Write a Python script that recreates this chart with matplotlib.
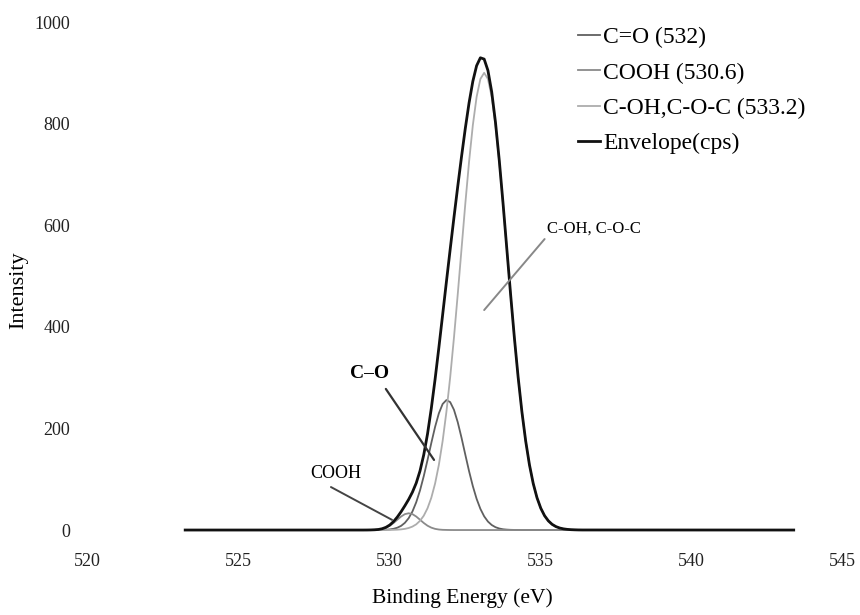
import matplotlib
matplotlib.use('Agg')
import matplotlib.pyplot as plt

plt.rcParams['font.family'] = 'serif'
plt.rcParams['font.serif'] = ['Liberation Serif', 'DejaVu Serif']

# Binding energy (eV) and intensities
energy = [523.25,
          529.15, 529.275, 529.4, 529.525, 529.65, 529.775, 529.9, 530.025,
          530.15, 530.275, 530.4, 530.525, 530.65, 530.775, 530.9, 531.025,
          531.15, 531.275, 531.4, 531.525, 531.65, 531.775, 531.9, 532.025,
          532.15, 532.275, 532.4, 532.525, 532.65, 532.775, 532.9, 533.025,
          533.15, 533.275, 533.4, 533.525, 533.65, 533.775, 533.9, 534.025,
          534.15, 534.275, 534.4, 534.525, 534.65, 534.775, 534.9, 535.025,
          535.15, 535.275, 535.4, 535.525, 535.65, 535.775, 535.9, 536.025,
          536.15, 536.275, 536.4,
          543.4]
c_o = [0,
       0, 0, 0, 0.05, 0.1, 0.3, 0.6, 1.2, 2.4, 4.6, 8.2, 14.2, 23.3, 36.5,
       54.6, 77.8, 106.1, 137.9, 171.3, 203.0, 229.7, 248.1, 255.8, 251.8,
       236.7, 212.3, 181.8, 148.6, 115.9, 86.4, 61.4, 41.7, 27.0, 16.7, 9.9,
       5.6, 3.0, 1.5, 0.8, 0.4, 0.2, 0.1,
       0, 0, 0, 0, 0, 0, 0, 0, 0, 0, 0, 0, 0, 0, 0, 0, 0,
       0]
cooh = [0,
        0, 0.05, 0.2, 0.4, 1.0, 2.3, 4.7, 8.5, 13.9, 20.3, 26.6, 31.3, 33.0,
        31.3, 26.6, 20.3, 13.9, 8.5, 4.7, 2.3, 1.0, 0.4, 0.2, 0.05,
        0, 0, 0, 0, 0, 0, 0, 0, 0, 0, 0, 0, 0, 0, 0, 0, 0, 0, 0, 0, 0, 0, 0,
        0, 0, 0, 0, 0, 0, 0, 0, 0, 0, 0, 0,
        0]
c_oh = [0,
        0, 0, 0, 0, 0, 0.05, 0.1, 0.2, 0.4, 0.7, 1.3, 2.3, 4.0, 6.8, 11.2,
        18.1, 28.2, 42.9, 63.5, 91.5, 128.3, 175.2, 232.7, 300.9, 378.7,
        463.9, 553.0, 641.8, 724.9, 796.9, 852.6, 887.9, 900.0, 887.9, 852.6,
        796.9, 724.9, 641.8, 553.0, 463.9, 378.7, 300.9, 232.7, 175.2, 128.3,
        91.5, 63.5, 42.9, 28.2, 18.1, 11.2, 6.8, 4.0, 2.3, 1.3, 0.7, 0.4,
        0.2, 0.1,
        0]
envelope = [0,
            0, 0.05, 0.2, 0.5, 1.1, 2.6, 5.4, 9.9, 16.7, 25.6, 36.1, 47.8,
            60.3, 74.6, 92.4, 116.2, 148.2, 189.3, 239.5, 296.8, 359.0, 423.7,
            488.7, 552.7, 615.4, 676.2, 734.8, 790.4, 840.8, 883.3, 914.0,
            929.6, 927.0, 904.6, 862.5, 802.5, 727.9, 643.3, 553.8, 464.3,
            378.9, 300.9, 232.7, 175.2, 128.3, 91.5, 63.5, 42.9, 28.2, 18.1,
            11.2, 6.8, 4.0, 2.3, 1.3, 0.7, 0.4, 0.2, 0.1,
            0]

series_labels = ['C=O (532)', 'COOH (530.6)', 'C-OH,C-O-C (533.2)', 'Envelope(cps)']
x_ticks = [520, 525, 530, 535, 540, 545]
y_ticks = [0, 200, 400, 600, 800, 1000]

fig = plt.figure(figsize=(8.6, 6.15), dpi=100)
ax = fig.add_axes([0.1012, 0.1299, 0.8779, 0.8343])

ax.plot(energy, c_o, color='#606060', lw=1.3, label=series_labels[0])
ax.plot(energy, cooh, color='#8a8a8a', lw=1.3, label=series_labels[1])
ax.plot(energy, c_oh, color='#adadad', lw=1.3, label=series_labels[2])
ax.plot(energy, envelope, color='#111111', lw=2.0, label=series_labels[3])

ax.set_xlim(520, 545)
ax.set_ylim(-10, 1000)
ax.set_xticks(x_ticks)
ax.set_yticks(y_ticks)
ax.tick_params(axis='both', length=0, labelsize=13, colors='#222222')
ax.tick_params(axis='x', pad=13)
ax.tick_params(axis='y', pad=12)
for s in ax.spines.values():
    s.set_visible(False)

ax.set_xlabel('Binding Energy (eV)', fontsize=15.5, va='top')
ax.xaxis.set_label_coords(0.4967, -0.103)
ax.set_ylabel('Intensity', fontsize=16)
ax.yaxis.set_label_coords(-0.078, 0.478)

# peak labels with leader lines
ax.annotate('C-OH, C-O-C', xy=(533.15, 433), xytext=(535.23, 594),
            fontsize=12, va='center', ha='left',
            arrowprops=dict(arrowstyle='-', color='#888888', lw=1.4,
                            shrinkA=0, shrinkB=0, relpos=(0, 0)))
ax.annotate('C–O', xy=(531.49, 138), xytext=(529.34, 309),
            fontsize=14, fontweight='bold', va='center', ha='center',
            arrowprops=dict(arrowstyle='-', color='#333333', lw=1.6,
                            shrinkA=4, shrinkB=0, relpos=(0.8, 0)))
ax.annotate('COOH', xy=(530.1, 20), xytext=(528.25, 112),
            fontsize=13, va='center', ha='center',
            arrowprops=dict(arrowstyle='-', color='#444444', lw=1.4,
                            shrinkA=4, shrinkB=0, relpos=(0.2, 0)))

leg = ax.legend(loc='upper left', bbox_to_anchor=(578 / 860, 1 - 27 / 615),
                bbox_transform=fig.transFigure, frameon=False, fontsize=17,
                handlelength=0.93, handletextpad=0.13, labelspacing=0.58,
                borderpad=0, borderaxespad=0)

fig.savefig('out.png', dpi=100)
